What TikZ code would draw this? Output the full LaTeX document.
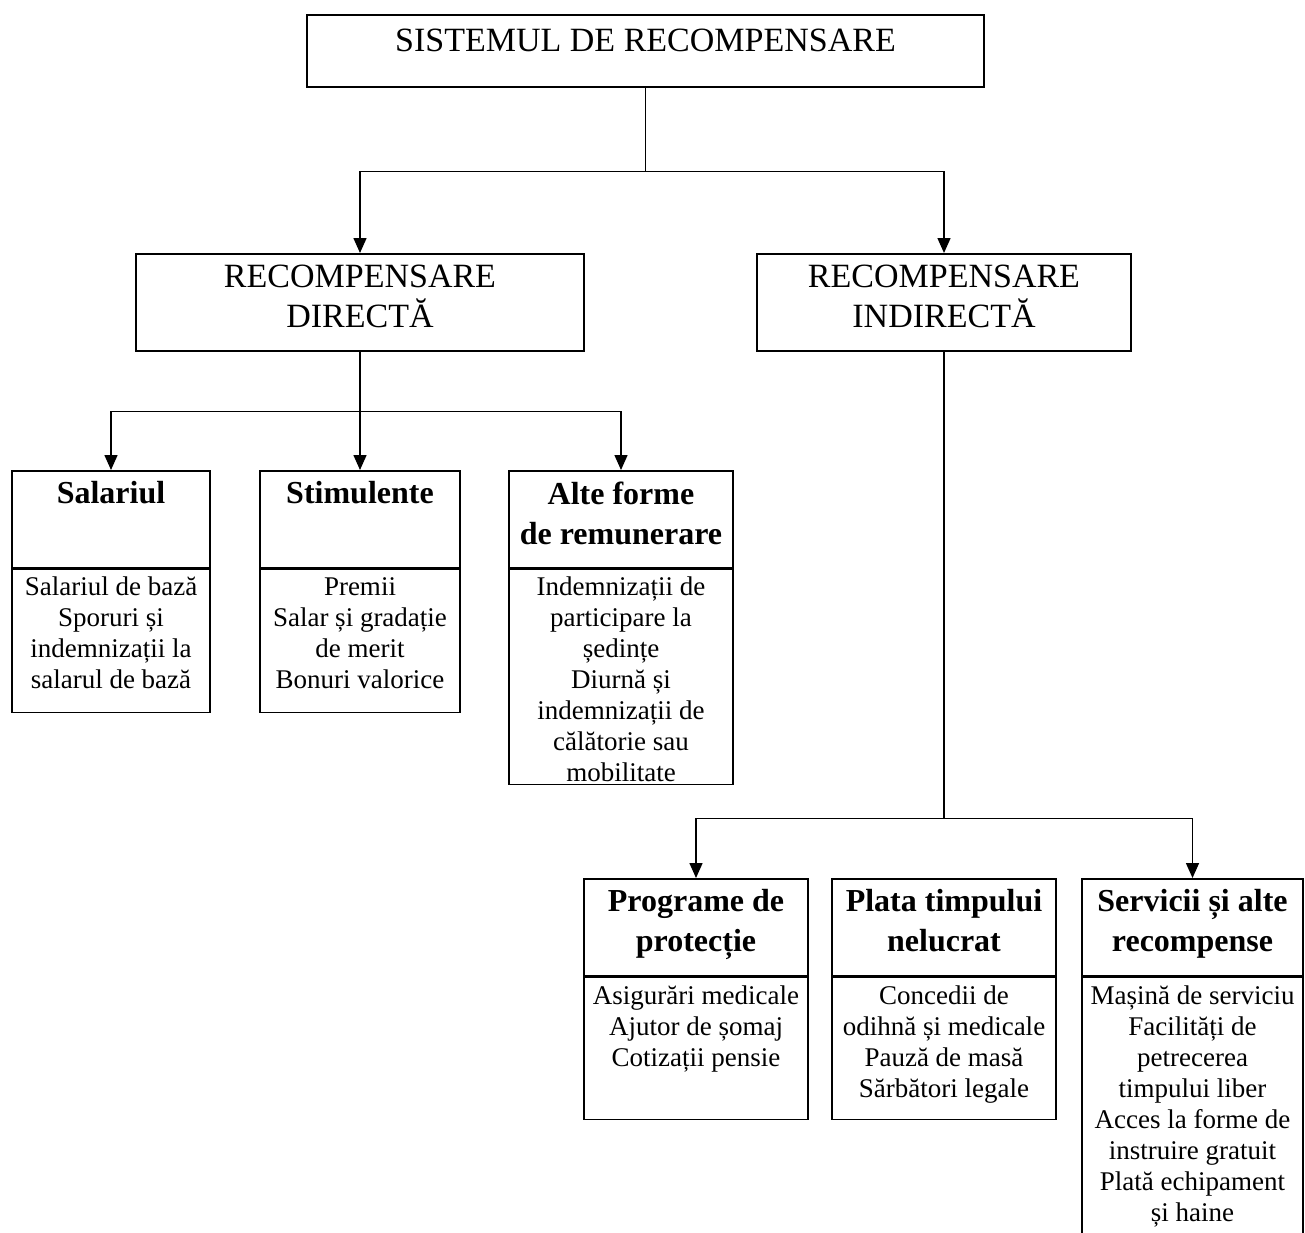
\documentclass[tikz,border=0pt]{standalone}
\usepackage{fontspec}
\setmainfont{Liberation Serif}
\usetikzlibrary{arrows.meta, positioning}

\begin{document}
\begin{tikzpicture}[
    x=1pt, y=-1pt,
    >={Triangle[length=15pt, width=13pt]},
    line width=1.5pt,
    box/.style={draw, inner sep=0pt, anchor=north},
    capstxt/.style={font=\fontsize{34}{40}\selectfont, align=center,
                    inner sep=0pt},
    headtxt/.style={font=\bfseries\fontsize{32}{40}\selectfont, align=center,
                    inner sep=0pt},
    bodytxt/.style={font=\fontsize{27}{31}\selectfont, align=center,
                    inner sep=0pt}
  ]
  \useasboundingbox (0,0) rectangle (1305,1232);

  % top of the tree
  \node[box, minimum width=677pt, minimum height=72pt] (sys) at (645.5,14) {};
  \node[capstxt, below=14pt of sys.north] (sys-t) {SISTEMUL DE RECOMPENSARE};

  \node[box, minimum width=448pt, minimum height=97pt] (direct) at (360,253) {};
  \node[capstxt, below=11pt of direct.north] (direct-t) {RECOMPENSARE\\DIRECTĂ};

  \node[box, minimum width=374pt, minimum height=97pt] (indirect) at (944,253) {};
  \node[capstxt, below=11pt of indirect.north] (indirect-t) {RECOMPENSARE\\INDIRECTĂ};

  % direct
  \node[box, minimum width=198pt, minimum height=97pt] (sal) at (111,470) {};
  \node[headtxt, below=11pt of sal.north] (sal-t) {Salariul};
  \node[box, minimum width=198pt, minimum height=143pt] (sal-b) at (sal.south) {};
  \node[bodytxt, below=8pt of sal-b.north] (sal-bt)
    {Salariul de bază\\Sporuri și\\indemnizații la\\salarul de bază};

  \node[box, minimum width=200pt, minimum height=97pt] (stim) at (360,470) {};
  \node[headtxt, below=11pt of stim.north] (stim-t) {Stimulente};
  \node[box, minimum width=200pt, minimum height=143pt] (stim-b) at (stim.south) {};
  \node[bodytxt, below=8pt of stim-b.north] (stim-bt)
    {Premii\\Salar și gradație\\de merit\\Bonuri valorice};

  \node[box, minimum width=224pt, minimum height=97pt] (alte) at (621,470) {};
  \node[headtxt, below=11pt of alte.north] (alte-t) {Alte forme\\de remunerare};
  \node[box, minimum width=224pt, minimum height=215pt] (alte-b) at (alte.south) {};
  \node[bodytxt, below=8pt of alte-b.north] (alte-bt)
    {Indemnizații de\\participare la\\ședințe\\Diurnă și\\indemnizații de\\călătorie sau\\mobilitate};

  % indirect
  \node[box, minimum width=224pt, minimum height=97pt] (prog) at (696,878) {};
  \node[headtxt, below=11pt of prog.north] (prog-t) {Programe de\\protecție};
  \node[box, minimum width=224pt, minimum height=142pt] (prog-b) at (prog.south) {};
  \node[bodytxt, below=8pt of prog-b.north] (prog-bt)
    {Asigurări medicale\\Ajutor de șomaj\\Cotizații pensie};

  \node[box, minimum width=224pt, minimum height=97pt] (plata) at (944,878) {};
  \node[headtxt, below=11pt of plata.north] (plata-t) {Plata timpului\\nelucrat};
  \node[box, minimum width=224pt, minimum height=142pt] (plata-b) at (plata.south) {};
  \node[bodytxt, below=8pt of plata-b.north] (plata-bt)
    {Concedii de\\odihnă și medicale\\Pauză de masă\\Sărbători legale};

  \node[box, minimum width=221pt, minimum height=97pt] (serv) at (1192.5,878) {};
  \node[headtxt, below=11pt of serv.north] (serv-t) {Servicii și alte\\recompense};
  \node[box, minimum width=221pt, minimum height=270pt] (serv-b) at (serv.south) {};
  \node[bodytxt, below=8pt of serv-b.north] (serv-bt)
    {Mașină de serviciu\\Facilități de\\petrecerea\\timpului liber\\Acces la forme de\\instruire gratuit\\Plată echipament\\și haine};

  % connectors
  \draw[->] (sys.south) -- ++(0,84) -| (direct.north);
  \draw[->] (sys.south) -- ++(0,84) -| (indirect.north);
  \draw[->] (direct.south) -- ++(0,60) -| (sal.north);
  \draw[->] (direct.south) -- (stim.north);
  \draw[->] (direct.south) -- ++(0,60) -| (alte.north);
  \draw[->] (indirect.south) -- ++(0,467) -| (prog.north);
  \draw[->] (indirect.south) -- ++(0,467) -| (serv.north);
\end{tikzpicture}
\end{document}
